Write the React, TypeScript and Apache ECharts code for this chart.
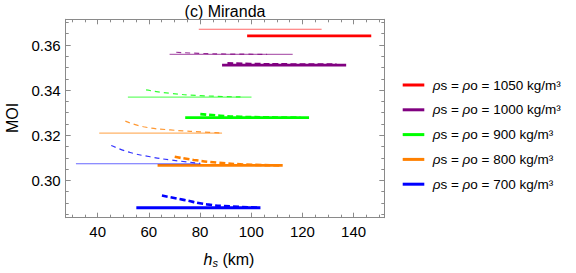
import React, { useEffect, useRef } from "react";
import * as echarts from "echarts";

// ---- data ----
const densities = [1050, 1000, 900, 800, 700];
const lineColors = ["#ff0000", "#800080", "#00ff00", "#ff8000", "#0000ff"];

const thinStart = [79.5, 68.1, 51.8, 40.6, 31.5];
const thinEnd = [127.5, 116.2, 100.1, 88.6, 80.1];
const thinMOI = [0.367, 0.3559, 0.3369, 0.321, 0.3074];

const thickStart = [98.4, 88.6, 74.2, 63.4, 55.1];
const thickEnd = [146.9, 137.1, 122.6, 112.3, 103.6];
const thickMOI = [0.3641, 0.3511, 0.3278, 0.3067, 0.2879];

const thinDashed1000 = [[70.7, 0.3568], [80.1, 0.3563], [91.9, 0.356], [106.2, 0.3559]];
const thinDashed900 = [[58.9, 0.3401], [68.4, 0.3386], [80.1, 0.3376], [95.8, 0.337]];
const thinDashed800 = [[50.8, 0.3263], [57.9, 0.3238], [68.4, 0.3224], [84.0, 0.3213], [88.3, 0.321]];
const thinDashed700 = [[45.3, 0.3155], [52.7, 0.3124], [60.5, 0.3105], [68.4, 0.3091], [80.1, 0.3076]];

const thickDashed1000 = [[90.7, 0.3519], [99.7, 0.3516], [115.3, 0.3514], [133.3, 0.3513]];
const thickDashed900 = [[80.1, 0.3294], [87.9, 0.3287], [95.8, 0.3282], [111.4, 0.3279], [119.3, 0.3278]];
const thickDashed800 = [[70.1, 0.3105], [77.5, 0.3091], [86.7, 0.3079], [96.9, 0.3071], [111.4, 0.3067]];
const thickDashed700 = [[65.1, 0.2933], [73.6, 0.2914], [82.7, 0.2894], [91.9, 0.2885], [102.8, 0.288]];

const thinDashed: number[][][] = [[], thinDashed1000, thinDashed900, thinDashed800, thinDashed700];
const thickDashed: number[][][] = [[], thickDashed1000, thickDashed900, thickDashed800, thickDashed700];

const xMajor = [40, 60, 80, 100, 120, 140];
const xMinor = [30, 35, 45, 50, 55, 65, 70, 75, 85, 90, 95, 105, 110, 115, 125, 130, 135, 145, 150];
const yMajor = [0.3, 0.32, 0.34, 0.36];
const yMinor = [0.285, 0.29, 0.295, 0.305, 0.31, 0.315, 0.325, 0.33, 0.335, 0.345, 0.35, 0.355, 0.365, 0.37];

const xMin = 27.5, xMax = 152;
const yMin = 0.2835, yMax = 0.3714;

const FONT = "Liberation Sans, Arial, sans-serif";
const FRAME = "#8a8a8a";

function xAxis(position: "top" | "bottom", ticks: number[], len: number, labels: boolean, line: boolean) {
  return {
    type: "value",
    position,
    min: xMin,
    max: xMax,
    axisLine: { show: line, onZero: false, lineStyle: { color: FRAME, width: 1 } },
    axisTick: { show: true, inside: true, length: len, customValues: ticks, lineStyle: { color: FRAME } },
    axisLabel: labels
      ? { show: true, customValues: xMajor, margin: 6, fontSize: 15, color: "#000", fontFamily: FONT, formatter: (v: number) => String(v) }
      : { show: false },
    splitLine: { show: false },
  };
}
function yAxis(position: "left" | "right", ticks: number[], len: number, labels: boolean, line: boolean) {
  return {
    type: "value",
    position,
    min: yMin,
    max: yMax,
    axisLine: { show: line, onZero: false, lineStyle: { color: FRAME, width: 1 } },
    axisTick: { show: true, inside: true, length: len, customValues: ticks, lineStyle: { color: FRAME } },
    axisLabel: labels
      ? { show: true, customValues: yMajor, margin: 5, fontSize: 15, color: "#000", fontFamily: FONT, formatter: (v: number) => v.toFixed(2) }
      : { show: false },
    splitLine: { show: false },
  };
}

export default function App() {
  const ref = useRef<HTMLDivElement>(null);
  useEffect(() => {
    if (!ref.current) return;
    const chart = echarts.init(ref.current, undefined, { renderer: "svg" });
    const series: any[] = [];
    densities.forEach((d, i) => {
      const c = lineColors[i];
      series.push({
        type: "line", name: d + " thin", xAxisIndex: 0, yAxisIndex: 0, showSymbol: false, silent: true,
        data: [[thinStart[i], thinMOI[i]], [thinEnd[i], thinMOI[i]]],
        lineStyle: { color: c, width: 1.2, opacity: 0.6 },
      });
      if (thinDashed[i].length)
        series.push({
          type: "line", name: d + " thin dashed", xAxisIndex: 0, yAxisIndex: 0, showSymbol: false, smooth: true, silent: true,
          data: thinDashed[i],
          lineStyle: { color: c, width: 1.2, type: [5, 4], opacity: 0.8 },
        });
      series.push({
        type: "line", name: d + " thick", xAxisIndex: 0, yAxisIndex: 0, showSymbol: false, silent: true,
        data: [[thickStart[i], thickMOI[i]], [thickEnd[i], thickMOI[i]]],
        lineStyle: { color: c, width: 2.8 },
      });
      if (thickDashed[i].length)
        series.push({
          type: "line", name: d + " thick dashed", xAxisIndex: 0, yAxisIndex: 0, showSymbol: false, smooth: true, silent: true,
          data: thickDashed[i],
          lineStyle: { color: c, width: 2.6, type: [6, 3] },
        });
    });

    const legendTop = 85;
    const legendGap = 24.8;
    const graphic: any[] = [
      {
        type: "text", x: 225, y: 3,
        style: { text: "(c) Miranda", fontSize: 16, fontFamily: FONT, fill: "#000", textAlign: "center" },
      },
      {
        type: "text", x: 4, y: 118, rotation: Math.PI / 2,
        style: { text: "MOI", fontSize: 16, fontFamily: FONT, fill: "#000", textAlign: "center", textVerticalAlign: "top" },
      },
      {
        type: "text", x: 229, y: 259,
        style: {
          text: "{i|h}{s|s}{n| (km)}",
          textAlign: "center",
          textVerticalAlign: "middle",
          rich: {
            i: { fontSize: 16, fontStyle: "italic", fontFamily: FONT, fill: "#000", lineHeight: 20, verticalAlign: "middle" },
            s: { fontSize: 11, fontStyle: "italic", fontFamily: FONT, fill: "#000", lineHeight: 11, padding: [8, 0, 0, 0], verticalAlign: "middle" },
            n: { fontSize: 16, fontFamily: FONT, fill: "#000", lineHeight: 20, verticalAlign: "middle" },
          },
        },
      },
    ];
    densities.forEach((d, i) => {
      const y = legendTop + i * legendGap;
      graphic.push({
        type: "line", shape: { x1: 402.7, y1: y, x2: 424.3, y2: y },
        style: { stroke: lineColors[i], lineWidth: 3 },
      });
      graphic.push({
        type: "text", x: 432.7, y: y,
        style: {
          text: `{it|ρ}{n|s = }{it|ρ}{n|o = ${d} kg/m³}`,
          textVerticalAlign: "middle",
          rich: {
            it: { fontSize: 13.5, fontStyle: "italic", fontFamily: FONT, fill: "#000" },
            n: { fontSize: 13.5, fontFamily: FONT, fill: "#000" },
          },
        },
      });
    });

    chart.setOption({
      animation: false,
      backgroundColor: "#fff",
      grid: { left: 65.7, top: 19.3, right: 191.7, bottom: 55.3, containLabel: false },
      xAxis: [
        xAxis("bottom", xMajor, 5, true, true),
        xAxis("bottom", xMinor, 3, false, false),
        xAxis("top", xMajor, 5, false, true),
        xAxis("top", xMinor, 3, false, false),
      ],
      yAxis: [
        yAxis("left", yMajor, 5, true, true),
        yAxis("left", yMinor, 3, false, false),
        yAxis("right", yMajor, 5, false, true),
        yAxis("right", yMinor, 3, false, false),
      ],
      series,
      graphic,
    });
    return () => chart.dispose();
  }, []);
  return <div ref={ref} style={{ position: "fixed", left: 0, top: 0, width: 576, height: 273 }} />;
}
